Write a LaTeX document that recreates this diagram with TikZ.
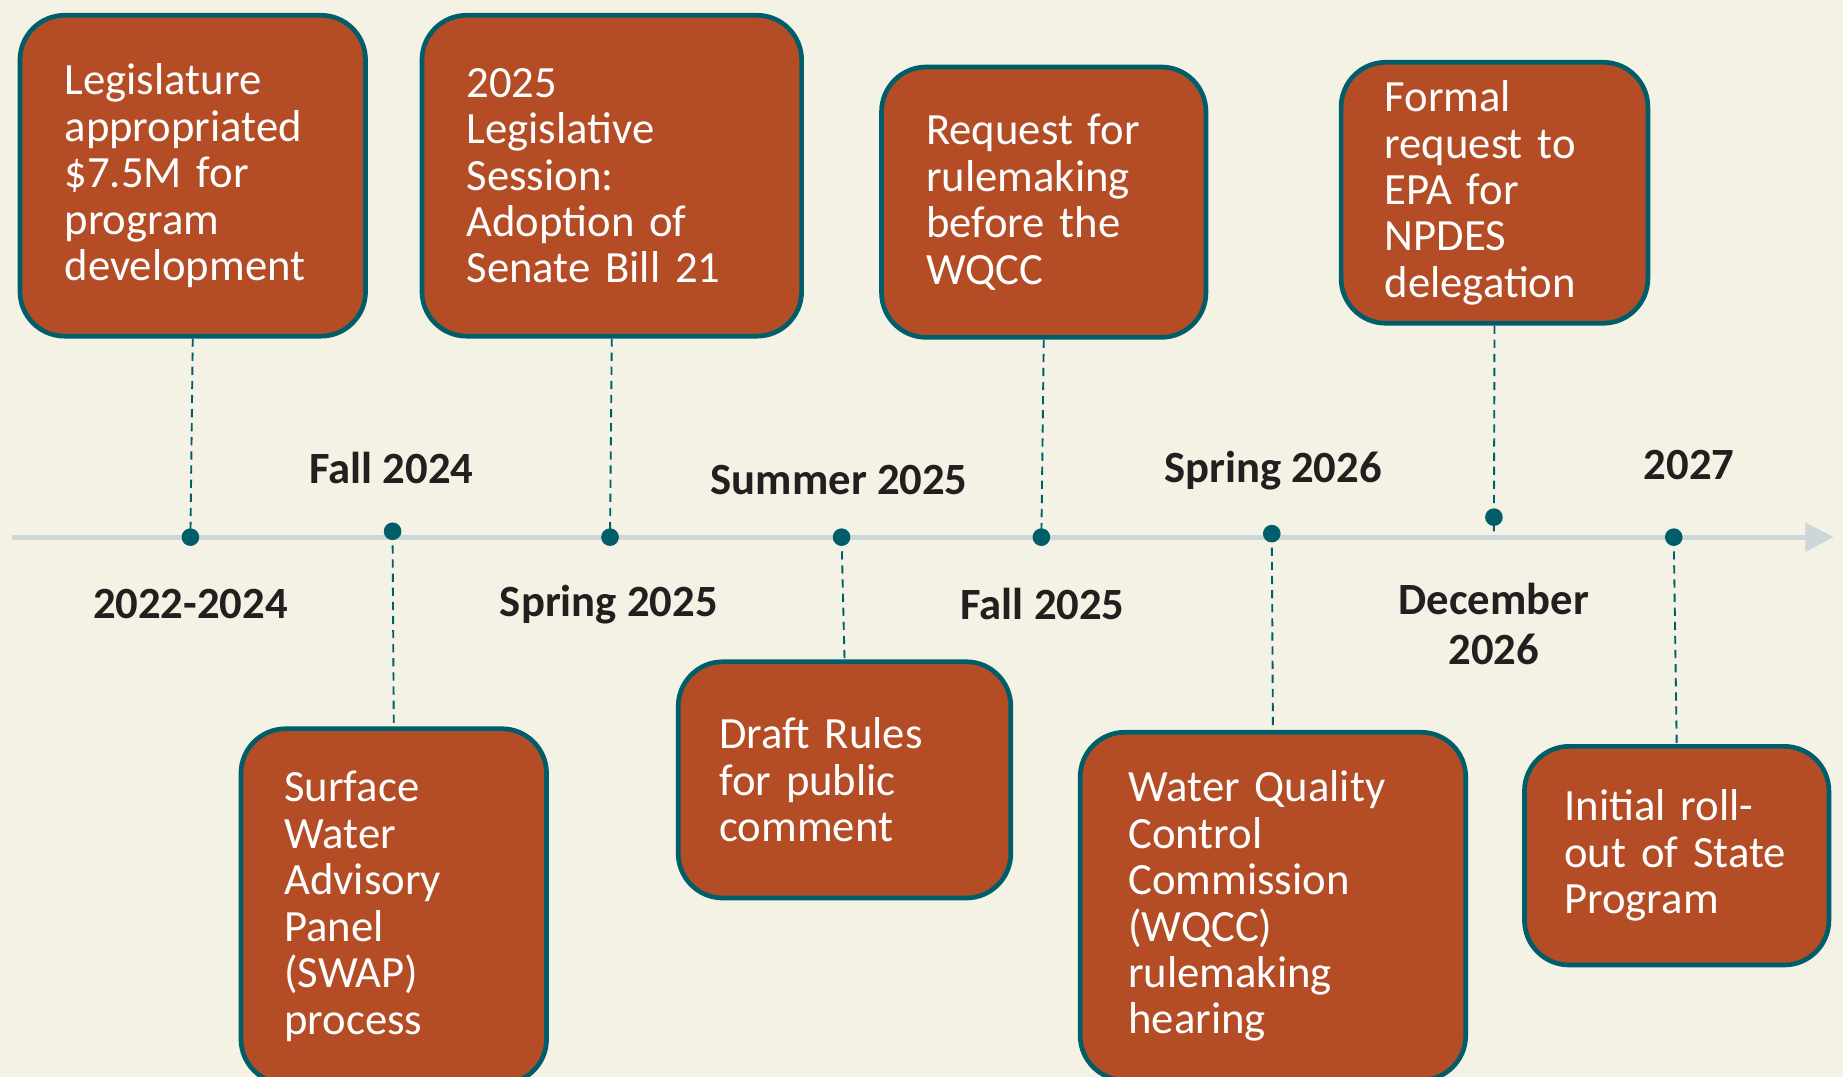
\documentclass[tikz,border=0pt]{standalone}
\usepackage{fontspec}
\setmainfont{Carlito}
\usetikzlibrary{arrows.meta}
\definecolor{bg}{HTML}{F4F2E4}
\definecolor{rust}{HTML}{B44D26}
\definecolor{tealc}{HTML}{005E6A}
\definecolor{axis}{HTML}{CDD6D8}
\definecolor{ink}{HTML}{231F20}
\begin{document}
\begin{tikzpicture}[x=1pt,y=-1pt,
  eventbox/.style={draw=tealc, line width=4pt, fill=rust, rounded corners=38pt,
    text=white, align=left, inner xsep=38pt, inner ysep=0pt, anchor=north west,
    font=\fontsize{38}{39.5}\selectfont},
  datelabel/.style={text=ink, align=center, inner sep=0pt,
    font=\bfseries\fontsize{38}{42}\selectfont},
  dot/.style={circle, fill=tealc, minimum size=15pt, inner sep=0pt},
  leader/.style={draw=tealc, line width=1.6pt, dash pattern=on 7pt off 5pt}
]
\fill[bg] (0,0) rectangle (1568,916);
\useasboundingbox (0,0) rectangle (1568,916);

% timeline axis
\coordinate (axstart) at (10,457);
\coordinate (axend) at (1560,457);
\draw[axis, line width=4pt, -{Triangle[length=24pt,width=24pt]}] (axstart) -- (axend);

% boxes
\node[eventbox, minimum width=294pt, minimum height=273pt, text width=218pt] (b1) at (15,11)
  {Legislature\\appropriated\\\$7.5M for\\program\\development};
\node[eventbox, minimum width=323pt, minimum height=273pt, text width=247pt] (b2) at (357,11)
  {2025\\Legislative\\Session:\\Adoption of\\Senate Bill 21};
\node[eventbox, minimum width=276pt, minimum height=230pt, text width=200pt] (b3) at (748,55)
  {Request for\\rulemaking\\before the\\WQCC};
\node[eventbox, minimum width=261pt, minimum height=222pt, text width=187pt, inner xsep=37pt] (b4) at (1139,51)
  {Formal\\request to\\EPA for\\NPDES\\delegation};
\node[eventbox, minimum width=260pt, minimum height=302pt, text width=186pt, inner xsep=37pt] (b5) at (203,618)
  {Surface\\Water\\Advisory\\Panel\\(SWAP)\\process};
\node[eventbox, minimum width=283pt, minimum height=201pt, text width=213pt, inner xsep=35pt] (b6) at (575,561)
  {Draft Rules\\for public\\comment};
\node[eventbox, minimum width=328pt, minimum height=296pt, text width=246pt, inner xsep=41pt] (b7) at (917,621)
  {Water Quality\\Control\\Commission\\(WQCC)\\rulemaking\\hearing};
\node[eventbox, minimum width=259pt, minimum height=186pt, text width=191pt, inner xsep=34pt] (b8) at (1295,633)
  {Initial roll-\\out of State\\Program};

% dots
\node[dot] (d1) at (162,457) {};
\node[dot] (d2) at (334,452) {};
\node[dot] (d3) at (519,457) {};
\node[dot] (d4) at (716,457) {};
\node[dot] (d5) at (886,457) {};
\node[dot] (d6) at (1082,454) {};
\node[dot] (d7) at (1271,440) {};
\node[dot] (d8) at (1424,457) {};

% leaders
\draw[leader] (b1.south) -- (d1.center);
\draw[leader] (d2.center) -- (b5.north);
\draw[leader] (b2.south) -- (d3.center);
\draw[leader] (d4.center) -- (b6.north);
\draw[leader] (b3.south) -- (d5.center);
\draw[leader] (d6.center) -- (b7.north);
\coordinate (d7end) at (1271,452);
\draw[leader] (b4.south) -- (d7end);
\draw[leader] (d8.center) -- (b8.north);

% date labels
\node[datelabel] (l1) at (162,514) {2022-2024};
\node[datelabel] (l2) at (333,398) {Fall 2024};
\node[datelabel] (l3) at (518,514) {Spring 2025};
\node[datelabel] (l4) at (714,408) {Summer 2025};
\node[datelabel] (l5) at (887,514) {Fall 2025};
\node[datelabel] (l6) at (1083,400) {Spring 2026};
\node[datelabel] (l7) at (1271,531) {December\\2026};
\node[datelabel] (l8) at (1437,396) {2027};
\end{tikzpicture}
\end{document}
